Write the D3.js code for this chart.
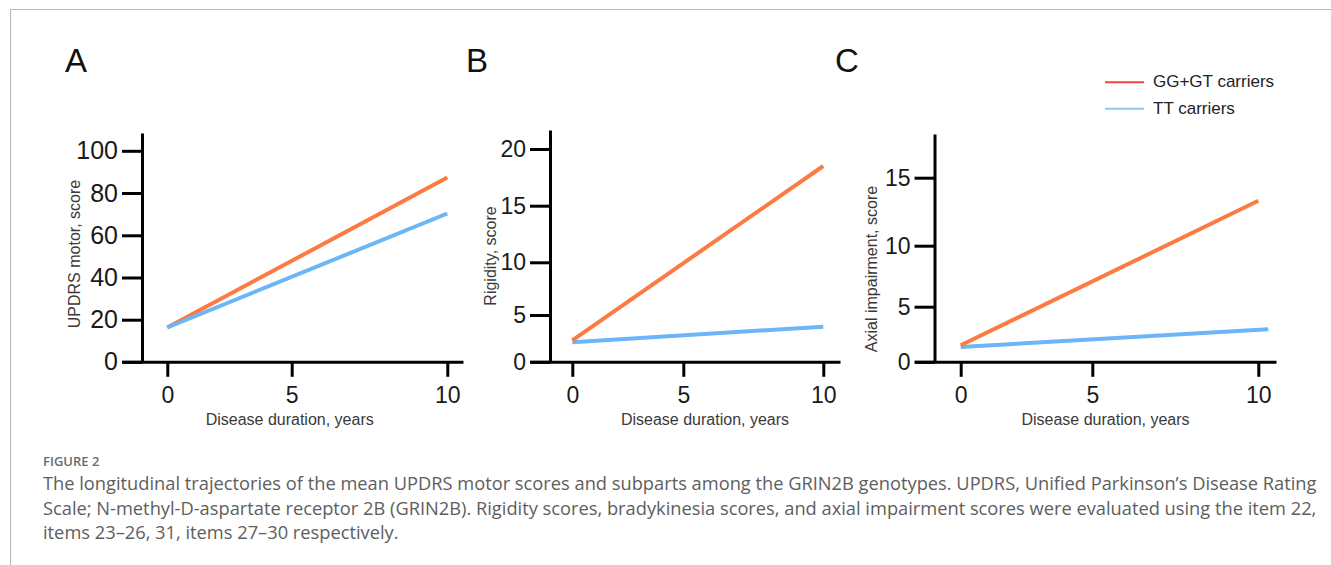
<!DOCTYPE html>
<html>
<head>
<meta charset="utf-8">
<script src="https://cdn.jsdelivr.net/npm/d3@7"></script>
<style>
  body { margin: 0; background: #fff; }
  svg { display: block; }
  .axis path, .axis line { stroke: #000; stroke-width: 3; }
  .axis text { fill: #1a1a1a; font-family: "Liberation Sans", Arial, sans-serif; }
  .title { fill: #3a3a3a; font-family: "Liberation Sans", Arial, sans-serif; font-size: 16px; }
</style>
</head>
<body>
<div id="chart"></div>
<script>
// ---- data ----
const xTicks = [0, 5, 10];
const panelLabels = ['A', 'B', 'C'];
const yTitles = ['UPDRS motor, score', 'Rigidity, score', 'Axial impairment, score'];
const xTitle = 'Disease duration, years';
const yTicksA = [0, 20, 40, 60, 80, 100];
const yTicksB = [0, 5, 10, 15, 20];
const yTicksC = [0, 5, 10, 15];
const seriesNames = ['GG+GT carriers', 'TT carriers'];

// years at start / end of each fitted trajectory
const yearsAll = [0, 10];
const yearsTTC = [0, 10.3];
// mean scores at those years
const ggA = [16.3, 87.3];
const ttA = [16.3, 70.3];
const ggB = [2.3, 18.5];
const ttB = [2.1, 3.75];
const ggC = [1.5, 13.3];
const ttC = [1.35, 2.95];

const colors = { gg: '#fb7b42', tt: '#6cb6f6' };
const legendColors = ['#f0443e', '#8cc6f7'];

// ---- layout (pixel positions of the ticks, the original figure is unevenly scaled) ----
const panels = [
  { label: panelLabels[0], labelX: 65, yTicks: yTicksA, yTitle: yTitles[0], yFont: 25,
    axisX: 142, xPix: [167.3, 291.7, 447.3], xRight: 463,
    yPix: [361.8, 319.7, 277.5, 235.3, 193.0, 150.8], yTop: 133,
    yTitleX: 79.5, yTitleY: 254, xTitleX: 289.7,
    series: [{ x: yearsAll, y: ggA, c: colors.gg }, { x: yearsAll, y: ttA, c: colors.tt }] },
  { label: panelLabels[1], labelX: 466, yTicks: yTicksB, yTitle: yTitles[1], yFont: 23,
    axisX: 550, xPix: [572.3, 683.3, 823.3], xRight: 840,
    yPix: [361.8, 315, 262.3, 205.7, 149], yTop: 130,
    yTitleX: 496, yTitleY: 256, xTitleX: 705,
    series: [{ x: yearsAll, y: ttB, c: colors.tt }, { x: yearsAll, y: ggB, c: colors.gg }] },
  { label: panelLabels[2], labelX: 835, yTicks: yTicksC, yTitle: yTitles[2], yFont: 23,
    axisX: 934.5, xPix: [960.7, 1092.3, 1258.3], xRight: 1276,
    yPix: [361.8, 306.7, 245.7, 177.7], yTop: 134,
    yTitleX: 876.5, yTitleY: 269, xTitleX: 1105.5,
    series: [{ x: yearsTTC, y: ttC, c: colors.tt }, { x: yearsAll, y: ggC, c: colors.gg }] }
];

const W = 1331, H = 565;
const svg = d3.select('#chart').append('svg')
  .attr('width', W)
  .attr('height', H);

// frame
svg.append('path')
  .attr('d', `M10.5,${H}V9.5H${W}`)
  .attr('fill', 'none')
  .attr('stroke', '#b5b5b5')
  .attr('stroke-width', 1);

const tickLen = 20;

panels.forEach(p => {
  // x scale: piecewise through the tick positions, stretched out to the axis ends
  const xBase = d3.scaleLinear().domain(xTicks).range(p.xPix);
  const xLeft = p.axisX - tickLen;
  const x = d3.scaleLinear()
    .domain([xBase.invert(xLeft), ...xTicks, xBase.invert(p.xRight)])
    .range([xLeft, ...p.xPix, p.xRight]);

  const yBase = d3.scaleLinear().domain(p.yTicks).range(p.yPix);
  const y = d3.scaleLinear()
    .domain([...p.yTicks, yBase.invert(p.yTop)])
    .range([...p.yPix, p.yTop]);

  const y0 = y(0);

  svg.append('text')
    .attr('x', p.labelX)
    .attr('y', 72)
    .attr('font-family', '"Liberation Sans", Arial, sans-serif')
    .attr('font-size', 33)
    .attr('fill', '#111')
    .text(p.label);

  const line = d3.line()
    .x(d => x(d[0]))
    .y(d => y(d[1]));

  p.series.forEach(s => {
    svg.append('path')
      .datum(d3.zip(s.x, s.y))
      .attr('d', line)
      .attr('fill', 'none')
      .attr('stroke', s.c)
      .attr('stroke-width', 4);
  });

  const xAxis = svg.append('g')
    .attr('class', 'axis')
    .attr('transform', `translate(0,${y0})`)
    .call(d3.axisBottom(x).tickValues(xTicks).tickSizeInner(15).tickSizeOuter(0).tickPadding(10));
  xAxis.selectAll('text').attr('font-size', 23);

  const yAxis = svg.append('g')
    .attr('class', 'axis')
    .attr('transform', `translate(${p.axisX},0)`)
    .call(d3.axisLeft(y).tickValues(p.yTicks).tickSizeInner(tickLen).tickSizeOuter(0).tickPadding(4));
  yAxis.selectAll('text').attr('font-size', p.yFont);

  svg.append('text')
    .attr('class', 'title')
    .attr('x', p.xTitleX)
    .attr('y', 424.5)
    .attr('text-anchor', 'middle')
    .text(xTitle);

  svg.append('text')
    .attr('class', 'title')
    .attr('transform', `translate(${p.yTitleX},${p.yTitleY}) rotate(-90)`)
    .attr('text-anchor', 'middle')
    .text(p.yTitle);
});

// legend
const legend = svg.append('g');
seriesNames.forEach((name, i) => {
  const ly = 82.3 + i * 26.5;
  legend.append('line')
    .attr('x1', 1105).attr('x2', 1144)
    .attr('y1', ly).attr('y2', ly)
    .attr('stroke', legendColors[i])
    .attr('stroke-width', 2);
  legend.append('text')
    .attr('x', 1153)
    .attr('y', ly + 5)
    .attr('font-family', '"Liberation Sans", Arial, sans-serif')
    .attr('font-size', 17)
    .attr('fill', '#222')
    .text(name);
});

// caption
const captionHead = 'FIGURE 2';
const captionLines = [
  'The longitudinal trajectories of the mean UPDRS motor scores and subparts among the GRIN2B genotypes. UPDRS, Unified Parkinson\u2019s Disease Rating',
  'Scale; N-methyl-D-aspartate receptor 2B (GRIN2B). Rigidity scores, bradykinesia scores, and axial impairment scores were evaluated using the item 22,',
  'items 23\u201326, 31, items 27\u201330 respectively.'
];

svg.append('text')
  .attr('x', 43)
  .attr('y', 466)
  .attr('font-family', '"Open Sans", "Noto Sans", sans-serif')
  .attr('font-weight', 600)
  .attr('font-size', 13)
  .attr('fill', '#6a6a6a')
  .text(captionHead);

const cap = svg.append('g')
  .attr('font-family', '"Open Sans", "Noto Sans", sans-serif')
  .attr('font-size', 16)
  .attr('fill', '#5e5e5e');

const capText = cap.selectAll('text')
  .data(captionLines)
  .join('text')
  .attr('x', 43)
  .attr('y', (d, i) => 490 + i * 24.5)
  .text(d => d);

// fit the first line to the width it has in the figure
const w0 = capText.node().getComputedTextLength();
cap.attr('font-size', 16 * 1275 / w0);
</script>
</body>
</html>
